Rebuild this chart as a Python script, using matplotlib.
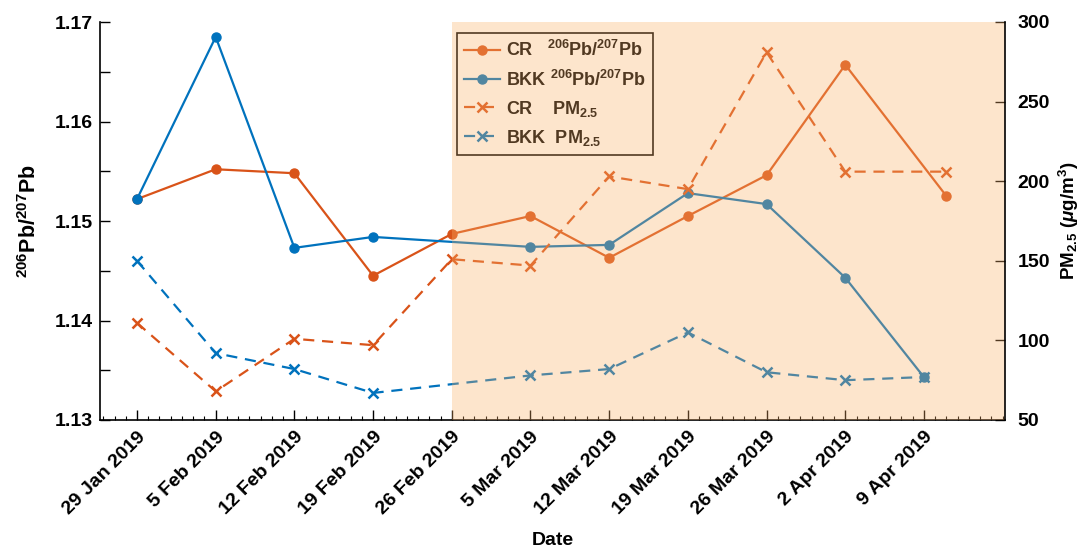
import numpy as np
import matplotlib
matplotlib.use("Agg")
import matplotlib.pyplot as plt
import matplotlib.dates as mdates
from matplotlib.ticker import FixedLocator, NullFormatter
import datetime as dt

plt.rcParams['font.family'] = ['Liberation Sans', 'DejaVu Sans']
plt.rcParams['font.weight'] = 'bold'
plt.rcParams['mathtext.fontset'] = 'custom'
plt.rcParams['mathtext.rm'] = 'Liberation Sans:bold'
plt.rcParams['mathtext.bf'] = 'Liberation Sans:bold'
plt.rcParams['mathtext.it'] = 'Liberation Sans:italic:bold'
plt.rcParams['mathtext.default'] = 'rm'

# ---- data ----
cr_dates = ['2019-01-29', '2019-02-05', '2019-02-12', '2019-02-19', '2019-02-26',
            '2019-03-05', '2019-03-12', '2019-03-19', '2019-03-26', '2019-04-02',
            '2019-04-11']
cr_pb = [1.1522, 1.1552, 1.1548, 1.1445, 1.1487, 1.1505, 1.1463, 1.1505, 1.1546,
         1.1657, 1.1525]
cr_pm = [111, 68, 101, 97, 151, 147, 203, 195, 281, 206, 206]

bkk_dates = ['2019-01-29', '2019-02-05', '2019-02-12', '2019-02-19', '2019-03-05',
             '2019-03-12', '2019-03-19', '2019-03-26', '2019-04-02', '2019-04-09']
bkk_pb = [1.1522, 1.1685, 1.1473, 1.1484, 1.1474, 1.1476, 1.1528, 1.1517, 1.1443,
          1.1343]
bkk_pm = [150, 92, 82, 67, 78, 82, 105, 80, 75, 77]

tick_dates = ['2019-01-29', '2019-02-05', '2019-02-12', '2019-02-19', '2019-02-26',
              '2019-03-05', '2019-03-12', '2019-03-19', '2019-03-26', '2019-04-02',
              '2019-04-09']
tick_labels = ['29 Jan 2019', '5 Feb 2019', '12 Feb 2019', '19 Feb 2019',
               '26 Feb 2019', '5 Mar 2019', '12 Mar 2019', '19 Mar 2019',
               '26 Mar 2019', '2 Apr 2019', '9 Apr 2019']
shade_start = '2019-02-26'

BLUE = '#0072BD'
ORANGE = '#D95319'


def d2n(lst):
    return mdates.date2num([dt.datetime.strptime(s, '%Y-%m-%d') for s in lst])


xcr = d2n(cr_dates)
xbkk = d2n(bkk_dates)
xt = d2n(tick_dates)

fig = plt.figure(figsize=(10.87, 5.52), dpi=100)
ax = fig.add_axes([100 / 1087, 132 / 552, 905 / 1087, 398 / 552])
ax2 = ax.twinx()

l1, = ax.plot(xcr, cr_pb, '-', color=ORANGE, lw=1.6, marker='o', ms=6.5)
l2, = ax.plot(xbkk, bkk_pb, '-', color=BLUE, lw=1.6, marker='o', ms=6.5)
l3, = ax2.plot(xcr, cr_pm, '--', color=ORANGE, lw=1.6, marker='x', ms=7, mew=1.8,
               dashes=(5, 3.5))
l4, = ax2.plot(xbkk, bkk_pm, '--', color=BLUE, lw=1.6, marker='x', ms=7, mew=1.8,
               dashes=(5, 3.5))

x0 = mdates.date2num(dt.datetime(2019, 1, 25, 17))
x1 = mdates.date2num(dt.datetime(2019, 4, 16, 5))
ax.set_xlim(x0, x1)
ax.set_ylim(1.13, 1.17)
ax2.set_ylim(50, 300)

FS = 14
ax.xaxis.set_major_locator(FixedLocator(xt))
ax.set_xticklabels(tick_labels, rotation=45, ha='right', rotation_mode='anchor',
                   fontsize=FS, fontweight='bold')
days = np.arange(np.ceil(x0), np.floor(x1) + 1)
ax.xaxis.set_minor_locator(FixedLocator(days))
ax.xaxis.set_minor_formatter(NullFormatter())

yt = np.arange(1.13, 1.1701, 0.005)
ax.set_yticks(yt)
ax.set_yticklabels(['%.2f' % v if i % 2 == 0 else '' for i, v in enumerate(yt)],
                   fontsize=FS, fontweight='bold')
ax2.set_yticks([50, 100, 150, 200, 250, 300])
ax2.set_yticklabels(['50', '100', '150', '200', '250', '300'], fontsize=FS,
                    fontweight='bold')

ax.tick_params(axis='both', which='major', direction='in', length=7, width=1.0,
               pad=5)
ax.tick_params(axis='x', which='minor', direction='in', length=3, width=0.8)
ax.tick_params(axis='x', which='major', pad=6)
ax2.tick_params(axis='y', which='major', direction='in', length=7, width=1.0, pad=9)

for a in (ax, ax2):
    a.spines['top'].set_visible(False)
    for s in a.spines.values():
        s.set_linewidth(1.2)
ax.spines['right'].set_visible(False)
ax2.spines['left'].set_visible(False)
ax2.spines['bottom'].set_visible(False)

ax.set_xlabel('Date', fontsize=FS, fontweight='bold', labelpad=10)
ax.set_ylabel('$^{206}$Pb/$^{207}$Pb', fontsize=15.5, fontweight='bold', labelpad=10)
ax2.set_ylabel('PM$_{2.5}$ ($\\mathit{\\mu}$g/m$^{3}$)', fontsize=13.5,
               fontweight='bold', labelpad=5)

leg = ax2.legend([l1, l2, l3, l4],
                 ['CR   $^{206}$Pb/$^{207}$Pb', 'BKK $^{206}$Pb/$^{207}$Pb',
                  'CR    PM$_{2.5}$', 'BKK  PM$_{2.5}$'],
                 loc='upper left', bbox_to_anchor=(0.3945, 0.972),
                 borderaxespad=0, fancybox=False, framealpha=1,
                 edgecolor='black', handlelength=2.0, handletextpad=0.3,
                 labelspacing=0.5, borderpad=0.4,
                 prop={'size': 13, 'weight': 'bold'})
leg.get_frame().set_linewidth(1.2)

ax2.axvspan(d2n([shade_start])[0], x1, ymin=0, ymax=1, color='#F9B067', alpha=0.33,
            lw=0, zorder=10)
ax2.spines['right'].set_zorder(12)

fig.savefig('out.png', dpi=100)
